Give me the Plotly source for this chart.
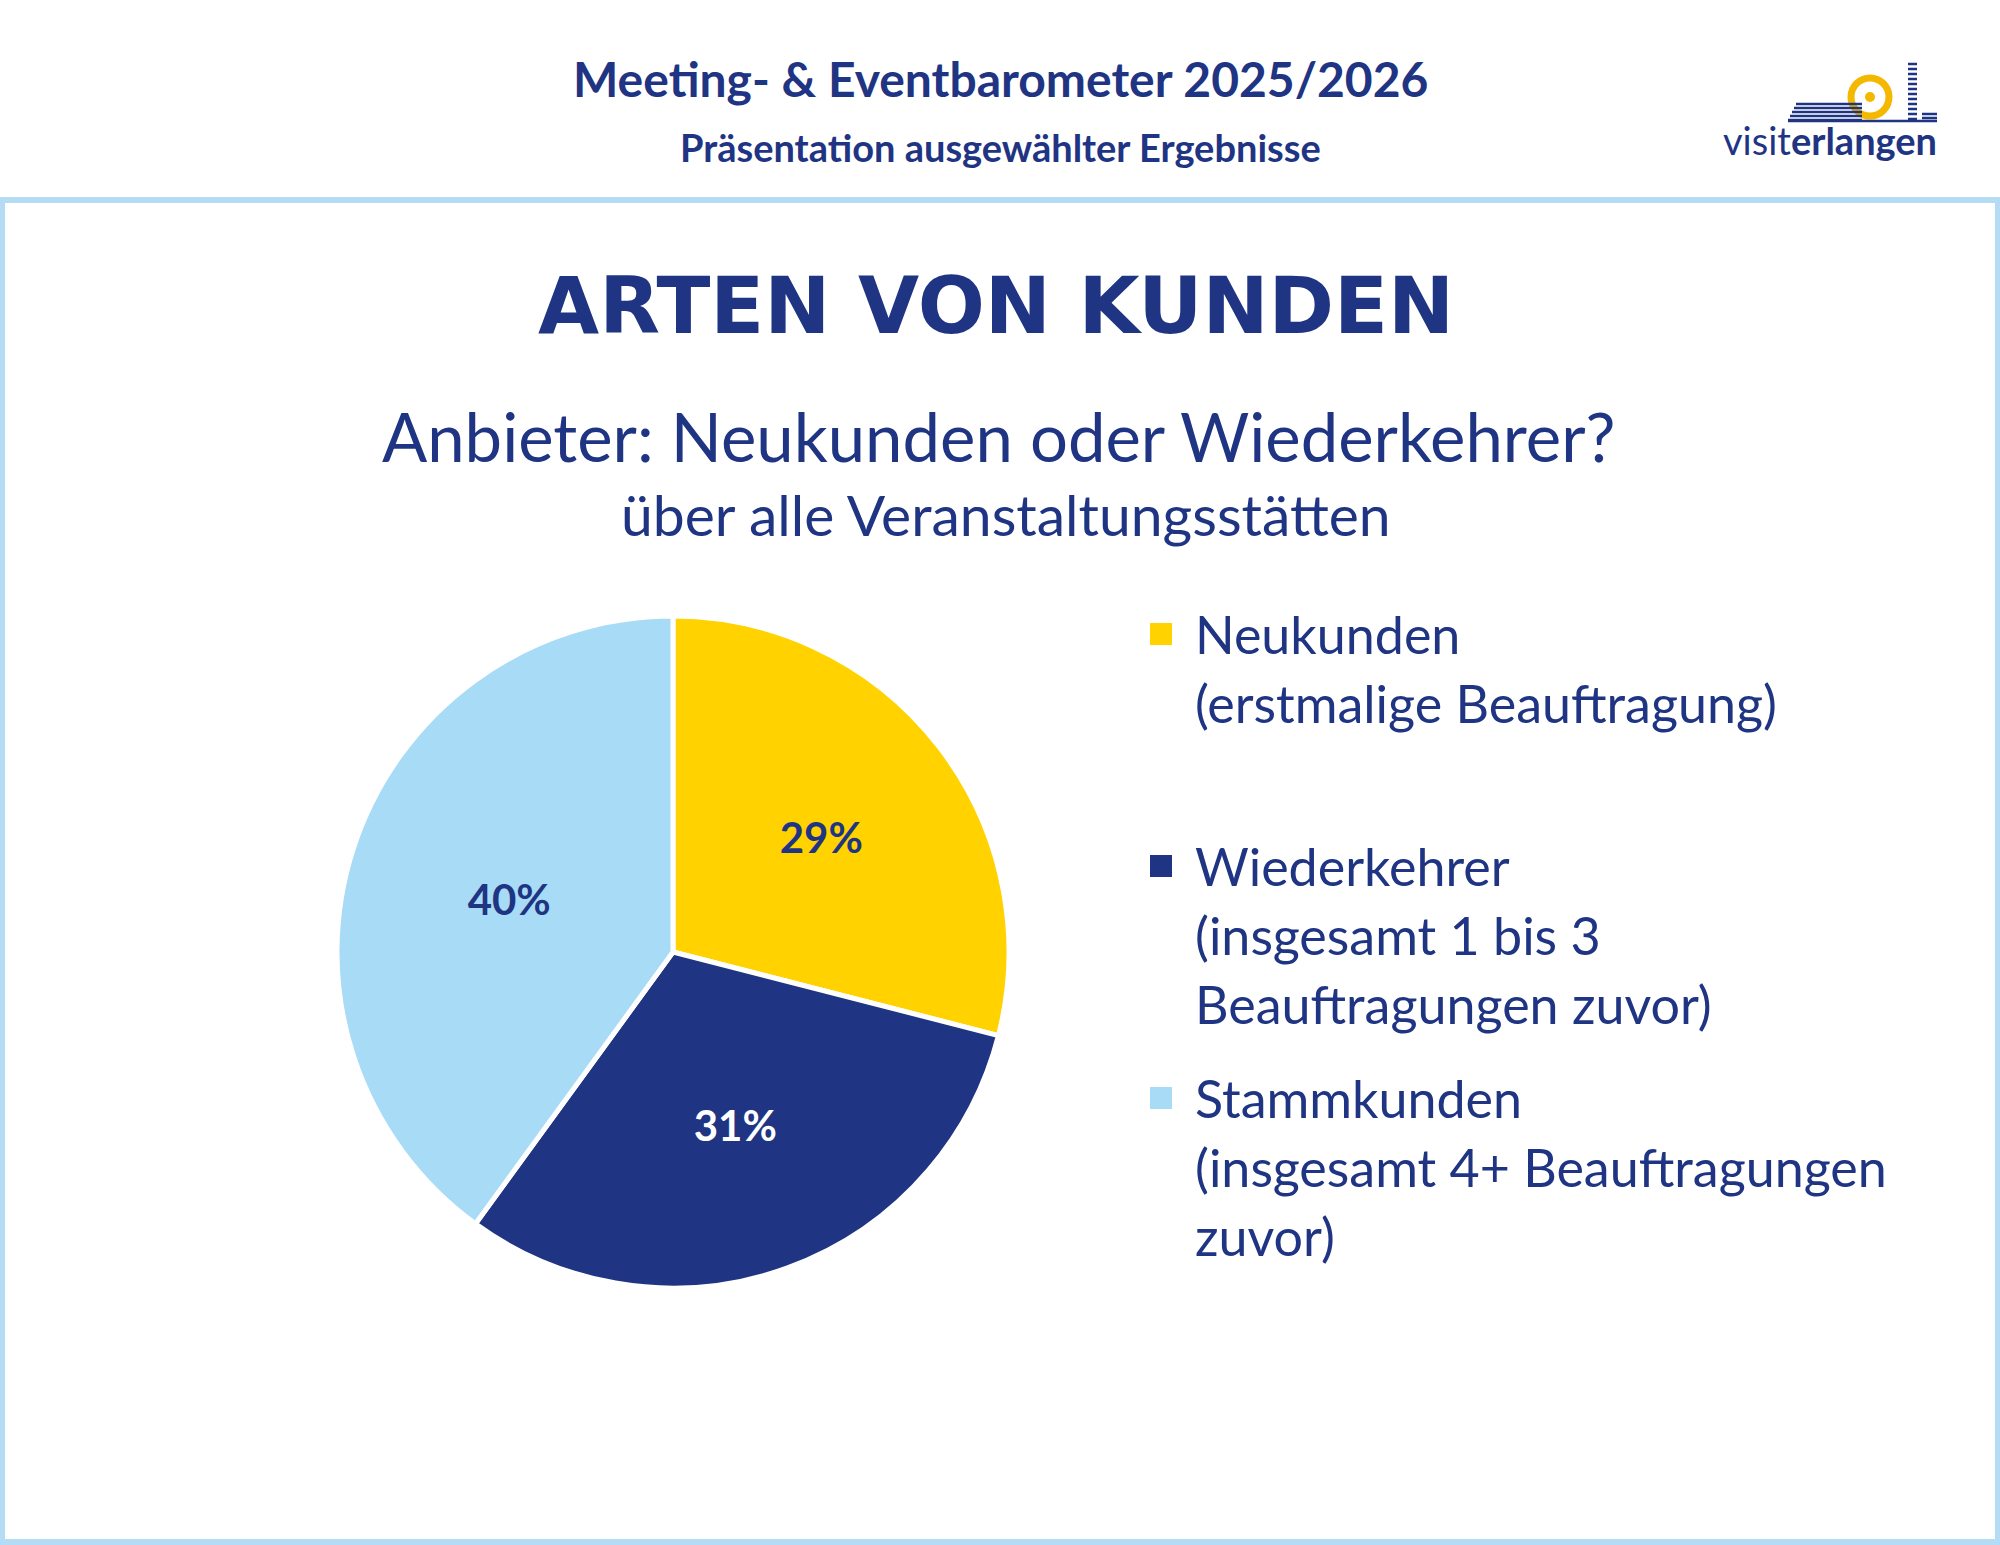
import plotly.graph_objects as go

W, H = 2000, 1545

# data
labels = ["Neukunden", "Wiederkehrer", "Stammkunden"]
values = [29, 31, 40]
colors = ["#FFD200", "#1F3583", "#A8DBF6"]
label_colors = ["#1F3583", "#FFFFFF", "#1F3583"]
legend_lines = [
    ["Neukunden", "(erstmalige Beauftragung)"],
    ["Wiederkehrer", "(insgesamt 1 bis 3", "Beauftragungen zuvor)"],
    ["Stammkunden", "(insgesamt 4+ Beauftragungen", "zuvor)"],
]

NAVY = "#1F3583"
FRAME = "#B5DCF5"
GOLD = "#F5B800"


def px(x):
    return x / W


def py(y):
    # pixel from top -> paper y
    return 1 - y / H


fig = go.Figure()

# pie, centre approx (673, 952) px, radius 336 px
cx, cy, r = 673, 952, 336
fig.add_trace(go.Pie(
    labels=labels,
    values=values,
    sort=False,
    direction="clockwise",
    rotation=0,
    marker=dict(colors=colors, line=dict(color="white", width=5)),
    texttemplate="%{value}%",
    textposition="inside",
    insidetextorientation="horizontal",
    textfont=dict(family="Lato", size=42, color=label_colors, weight="bold"),
    domain=dict(x=[px(cx - r), px(cx + r)], y=[py(cy + r), py(cy - r)]),
    showlegend=False,
    hoverinfo="label+percent",
))

shapes = []


def rect(x0, y0, x1, y1, color, layer="above"):
    shapes.append(dict(type="rect", xref="paper", yref="paper",
                       x0=px(x0), x1=px(x1), y0=py(y1), y1=py(y0),
                       fillcolor=color, line=dict(width=0), layer=layer))


def hline(x0, x1, y, color, width):
    shapes.append(dict(type="line", xref="paper", yref="paper",
                       x0=px(x0), x1=px(x1), y0=py(y), y1=py(y),
                       line=dict(color=color, width=width)))


# light blue frame around the content area
for box in [(0, 197, W, 203), (0, 197, 5, H), (W - 5, 197, W, H), (0, H - 6, W, H)]:
    rect(*box, FRAME, layer="below")

# legend squares
legend_y = [634, 866, 1098]
line_h = 69
for i, y in enumerate(legend_y):
    rect(1150, y - 11, 1172, y + 11, colors[i])

# rough logo: sun ring, striped hill, tower
shapes.append(dict(type="circle", xref="paper", yref="paper",
                   x0=px(1851), x1=px(1889), y0=py(116), y1=py(78),
                   line=dict(color=GOLD, width=7)))
shapes.append(dict(type="circle", xref="paper", yref="paper",
                   x0=px(1865), x1=px(1875), y0=py(102), y1=py(92),
                   fillcolor=GOLD, line=dict(width=0)))
for k, yy in enumerate([104, 108, 112, 116, 120]):
    hline(1796 - k * 2, 1862, yy, NAVY, 2.5)
hline(1788, 1937, 121, NAVY, 2.5)
for yy in range(64, 120, 5):
    hline(1908, 1917, yy, NAVY, 2.5)
for yy in [114, 118]:
    hline(1922, 1937, yy, NAVY, 2.5)

annotations = []


def add_text(text, x, y, size, bold=False, family="Lato", color=NAVY, xanchor="center"):
    annotations.append(dict(
        text=text, x=px(x), y=py(y), xref="paper", yref="paper",
        xanchor=xanchor, yanchor="middle", showarrow=False,
        font=dict(family=family, size=size, color=color, weight="bold" if bold else "normal"),
    ))


add_text("Meeting- & Eventbarometer 2025/2026", 1000, 79, 48, bold=True)
add_text("Präsentation ausgewählter Ergebnisse", 1000, 147, 38, bold=True)
add_text("ARTEN VON KUNDEN", 996, 306, 79, bold=True, family="DejaVu Sans")
add_text("Anbieter: Neukunden oder Wiederkehrer?", 999, 436, 67)
add_text("über alle Veranstaltungsstätten", 1006, 514, 57)
add_text("visit<b>erlangen</b>", 1830, 140, 38)

for i, lines in enumerate(legend_lines):
    for j, line in enumerate(lines):
        add_text(line, 1193, legend_y[i] + j * line_h, 52, xanchor="left")

fig.update_layout(
    width=W, height=H,
    margin=dict(l=0, r=0, t=0, b=0),
    paper_bgcolor="white",
    plot_bgcolor="white",
    shapes=shapes,
    annotations=annotations,
    showlegend=False,
)

fig.write_html("out.html", config={"displayModeBar": False},
               post_script="document.body.style.margin = '0px';")
